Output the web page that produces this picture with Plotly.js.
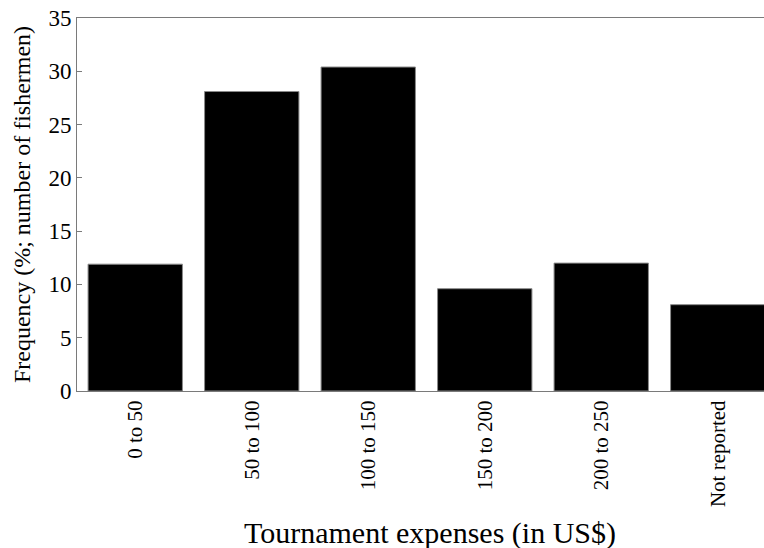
<!DOCTYPE html>
<html>
<head>
<meta charset="utf-8">
<script src="https://cdn.plot.ly/plotly-3.0.1.min.js"></script>
<style>
  html, body { margin: 0; padding: 0; background: #fff; }
  #chart { width: 764px; height: 548px; }
</style>
</head>
<body>
<div id="chart"></div>
<script>
// Tournament expense brackets and share of fishermen in each
const categories = ['0 to 50', '50 to 100', '100 to 150', '150 to 200', '200 to 250', 'Not reported'];
const frequency = [11.9, 28.1, 30.4, 9.6, 12.0, 8.1];
const yTicks = [0, 5, 10, 15, 20, 25, 30, 35];
const xTitle = 'Tournament expenses (in US$)';
const yTitle = 'Frequency (%; number of fishermen)';

const serif = 'Liberation Serif, Times New Roman, serif';
const axisGray = '#7a7a7a';

const trace = {
  type: 'bar',
  x: categories,
  y: frequency,
  marker: { color: '#000000', line: { color: '#8a8a8a', width: 1 } },
  hoverinfo: 'x+y'
};

const layout = {
  width: 764,
  height: 548,
  margin: { l: 77, r: 0, t: 18, b: 157 },
  paper_bgcolor: '#ffffff',
  plot_bgcolor: '#ffffff',
  bargap: 0.19,
  showlegend: false,
  font: { family: serif, color: '#000' },
  xaxis: {
    type: 'category',
    range: [-0.5, 5.397],
    showline: true,
    linecolor: axisGray,
    linewidth: 1,
    mirror: true,
    ticks: '',
    tickangle: -90,
    tickfont: { family: serif, size: 21, color: '#000' },
    showgrid: false,
    zeroline: false
  },
  yaxis: {
    range: [0, 35],
    tickvals: yTicks,
    ticktext: yTicks.map(String),
    showline: true,
    linecolor: axisGray,
    linewidth: 1,
    ticks: 'inside',
    ticklen: 5,
    tickcolor: axisGray,
    tickfont: { family: serif, size: 23, color: '#000' },
    showgrid: false,
    zeroline: false,
    title: { text: yTitle, font: { family: serif, size: 24, color: '#000' }, standoff: 11 }
  },
  annotations: [{
    text: xTitle,
    xref: 'paper', yref: 'paper',
    x: 0.514, y: -0.381,
    xanchor: 'center', yanchor: 'middle',
    showarrow: false,
    font: { family: serif, size: 30, color: '#000' }
  }]
};

Plotly.newPlot('chart', [trace], layout, { displayModeBar: false, staticPlot: true });
</script>
</body>
</html>
